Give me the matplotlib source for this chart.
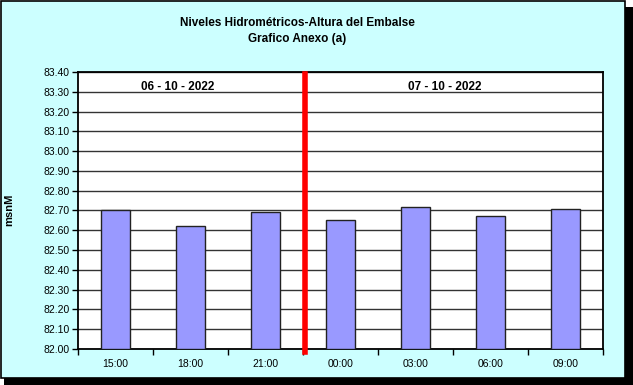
import matplotlib
matplotlib.use("Agg")
import matplotlib.pyplot as plt
from matplotlib.patches import Rectangle
import numpy as np

categories = ["15:00", "18:00", "21:00", "00:00", "03:00", "06:00", "09:00"]
values = [82.70, 82.62, 82.69, 82.65, 82.72, 82.67, 82.71]
yticks = [82.00, 82.10, 82.20, 82.30, 82.40, 82.50, 82.60, 82.70, 82.80, 82.90,
          83.00, 83.10, 83.20, 83.30, 83.40]
date_labels = ["06 - 10 - 2022", "07 - 10 - 2022"]
title = "Niveles Hidrométricos-Altura del Embalse\nGrafico Anexo (a)"
ylabel = "msnM"

plt.rcParams['font.family'] = ['Liberation Sans', 'DejaVu Sans']

W, H = 633, 385
fig = plt.figure(figsize=(W / 100, H / 100), dpi=100)
fig.patch.set_facecolor('white')

# outer frame with shadow
fig.patches.append(Rectangle((4 / W, 0), (W - 4) / W, (H - 7) / H, transform=fig.transFigure,
                             facecolor='black', edgecolor='none', zorder=-3))
fig.patches.append(Rectangle((0.5 / W, 7 / H), (W - 9) / W, (H - 7.5) / H, transform=fig.transFigure,
                             facecolor='#CCFFFF', edgecolor='black', linewidth=1.2, zorder=-2))

ax = fig.add_axes([78 / W, (H - 349) / H, (603 - 78) / W, (349 - 72) / H])
ax.set_zorder(1)
ax.set_facecolor('white')

x = np.arange(len(categories))
ax.bar(x, [v - yticks[0] for v in values], bottom=yticks[0], width=0.39,
       color='#9999FF', edgecolor='#222222', linewidth=1.0, zorder=3)

ax.set_xlim(-0.5, len(categories) - 0.5)
ax.set_ylim(yticks[0], yticks[-1])
ax.set_yticks(yticks)
ax.set_yticklabels([f"{t:.2f}" for t in yticks], fontsize=7.5)
ax.set_xticks(x)
ax.set_xticklabels(categories, fontsize=7.5)
ax.tick_params(axis='x', which='major', length=0, pad=7)
ax.set_xticks(np.arange(-0.5, len(categories) + 0.5, 1), minor=True)
ax.tick_params(axis='x', which='minor', length=4, width=1, direction='out')
ax.tick_params(axis='y', length=4, width=1, direction='out', pad=2)

ax.grid(axis='y', color='#333333', linewidth=1.0, zorder=1)
for s in ax.spines.values():
    s.set_color('black')
    s.set_linewidth(1.3)

# red separator
ax.axvline(2.52, ymin=-0.011, ymax=0.993, color='#FF0000', linewidth=4, zorder=4, clip_on=False)

ax.text(0.83, 83.325, date_labels[0], ha='center', va='center', fontsize=8.5, fontweight='bold', zorder=5)
ax.text(4.39, 83.325, date_labels[1], ha='center', va='center', fontsize=8.5, fontweight='bold', zorder=5)

fig.text(297 / W, 1 - 31 / H, title, ha='center', va='center', fontsize=8.5,
         fontweight='bold', linespacing=1.55)
fig.text(9 / W, 1 - 210 / H, ylabel, rotation=90, ha='center', va='center', fontsize=8,
         fontweight='bold')

fig.savefig("out.png", dpi=100)
